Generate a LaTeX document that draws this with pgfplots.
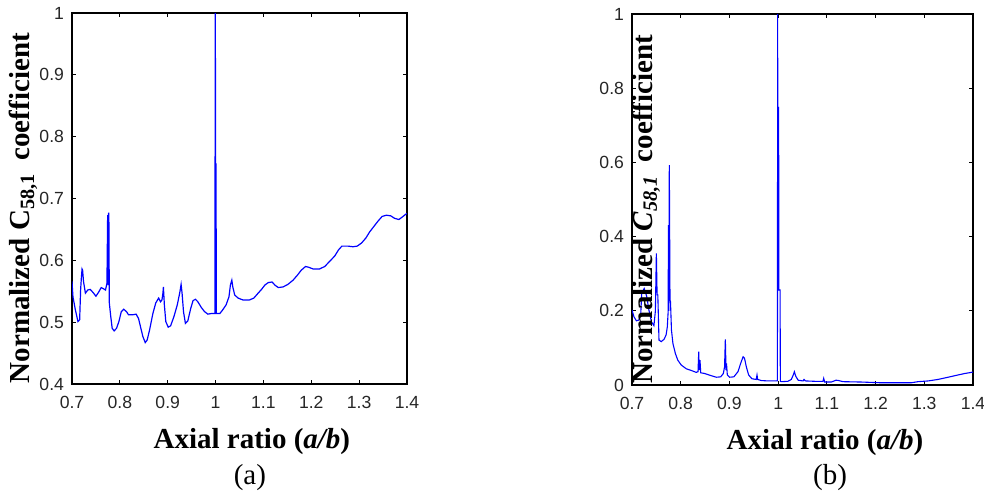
\documentclass[border=0pt]{standalone}
\usepackage{fontspec}
\setmainfont{Liberation Serif}
\newfontfamily\tickfont{Liberation Sans}
\usepackage{pgfplots}
\pgfplotsset{compat=1.18}

\pgfplotsset{
  matfig/.style={
    scale only axis,
    anchor=south west,
    clip mode=individual,
    xmin=0.7, xmax=1.4,
    xtick={0.7,0.8,...,1.4},
    tick align=inside,
    major tick length=2.2pt,
    axis line style={line width=0.6pt},
    tick style={line width=0.5pt, black},
    /pgf/number format/assume math mode=true,
    ticklabel style={font=\fontsize{8.8}{10}\selectfont\tickfont, text=black!85},
    xticklabel style={yshift=-2.5pt},
    yticklabel style={xshift=-0.5pt},
    label style={font=\fontsize{14.5}{17}\selectfont\bfseries},
  },
}

\begin{document}
\begin{tikzpicture}
\path[use as bounding box] (0,0) rectangle (492pt,247.5pt);

% (a)
\begin{axis}[matfig,
    at={(36pt,55.5pt)},
    width=167.5pt, height=185.5pt,
    ymin=0.4, ymax=1,
    ytick={0.4,0.5,...,1.0},
    xlabel={Axial ratio (\textit{a/b})},
    xlabel style={at={(axis description cs:0.537,-0.154)}, anchor=center},
    ylabel={Normalized C\textsubscript{58,1}\hspace{0.45em}coefficient},
    ylabel style={at={(axis description cs:-0.145,0.474)}, anchor=center, rotate=0},
]
\addplot[blue, line width=0.6pt] coordinates {
(0.700,0.566) (0.702,0.541) (0.707,0.520) (0.7125,0.501) (0.716,0.504)
(0.718,0.552) (0.7195,0.571) (0.721,0.586) (0.7222,0.584) (0.724,0.566)
(0.728,0.547) (0.733,0.552) (0.738,0.553) (0.744,0.548) (0.750,0.542)
(0.756,0.549) (0.761,0.556) (0.766,0.554) (0.770,0.552) (0.773,0.563)
(0.7745,0.673) (0.7755,0.560) (0.776,0.676) (0.7765,0.560) (0.777,0.677)
(0.778,0.531) (0.781,0.509) (0.784,0.490) (0.788,0.486) (0.793,0.490)
(0.798,0.501) (0.803,0.517) (0.808,0.521) (0.814,0.517) (0.818,0.512)
(0.827,0.512) (0.834,0.513) (0.839,0.506) (0.843,0.493) (0.848,0.477)
(0.853,0.467) (0.857,0.471) (0.862,0.487) (0.869,0.514) (0.875,0.531)
(0.881,0.539) (0.885,0.533) (0.888,0.536) (0.890,0.547) (0.891,0.557)
(0.893,0.528) (0.896,0.501) (0.901,0.492) (0.906,0.494) (0.913,0.509)
(0.920,0.528) (0.925,0.547) (0.928,0.561) (0.930,0.547) (0.933,0.517)
(0.937,0.498) (0.942,0.502) (0.948,0.522) (0.953,0.535) (0.958,0.537)
(0.963,0.533) (0.970,0.524) (0.977,0.517) (0.984,0.513) (0.991,0.514)
(0.9985,0.514) (0.999,0.757) (0.9995,1.0) (1.0,0.757) (1.0005,0.514)
(1.001,0.757) (1.0015,0.514)
(1.009,0.514) (1.015,0.520) (1.022,0.528) (1.028,0.541) (1.031,0.560)
(1.034,0.568) (1.036,0.557) (1.040,0.544) (1.047,0.539) (1.057,0.536)
(1.071,0.536) (1.080,0.539) (1.089,0.547) (1.096,0.553) (1.103,0.560)
(1.110,0.564) (1.118,0.565) (1.124,0.560) (1.131,0.556) (1.141,0.557)
(1.151,0.561) (1.162,0.568) (1.171,0.576) (1.179,0.584) (1.188,0.590)
(1.194,0.589) (1.204,0.586) (1.217,0.586) (1.228,0.590) (1.238,0.598)
(1.249,0.607) (1.257,0.617) (1.264,0.623) (1.277,0.623) (1.287,0.622)
(1.296,0.623) (1.305,0.628) (1.314,0.636) (1.322,0.646) (1.331,0.655)
(1.339,0.663) (1.348,0.671) (1.357,0.673) (1.366,0.672) (1.374,0.668)
(1.383,0.666) (1.390,0.670) (1.3965,0.674) (1.400,0.676)
};
\node[font=\fontsize{14.5}{17}\selectfont] at (axis description cs:0.531,-0.253) {(a)};
\end{axis}

% (b)
\begin{axis}[matfig,
    at={(316pt,55pt)},
    width=170.5pt, height=185.5pt,
    ymin=0, ymax=1,
    ytick={0,0.2,...,1.0},
    xlabel={Axial ratio (\textit{a/b})},
    xlabel style={at={(axis description cs:0.566,-0.156)}, anchor=center},
    ylabel={Normalized \textit{C}\textsubscript{\textit{58,1}}\hspace{0.45em}coefficient},
    ylabel style={at={(axis description cs:0.041,0.474)}, anchor=center, rotate=0},
]
\addplot[blue, line width=0.55pt] coordinates {
(0.700,0.202) (0.704,0.184) (0.709,0.173) (0.714,0.175) (0.718,0.193)
(0.720,0.248) (0.725,0.260) (0.730,0.240) (0.735,0.200) (0.740,0.170)
(0.745,0.160) (0.748,0.200) (0.750,0.355) (0.7515,0.243) (0.753,0.243)
(0.7554,0.121) (0.760,0.117) (0.7657,0.123) (0.770,0.135) (0.7725,0.157)
(0.774,0.193) (0.775,0.431) (0.7755,0.200) (0.7766,0.593) (0.778,0.229)
(0.779,0.225) (0.781,0.148) (0.784,0.112) (0.789,0.085) (0.794,0.067)
(0.801,0.054) (0.811,0.044) (0.822,0.039) (0.832,0.034) (0.8355,0.036)
(0.837,0.090) (0.838,0.040) (0.8396,0.067) (0.841,0.033) (0.849,0.031)
(0.863,0.025) (0.873,0.021) (0.882,0.022) (0.8875,0.031) (0.890,0.049)
(0.8916,0.123) (0.893,0.040) (0.894,0.058) (0.8957,0.027) (0.9005,0.021)
(0.909,0.022) (0.9176,0.036) (0.923,0.058) (0.928,0.076) (0.931,0.072)
(0.9347,0.049) (0.9395,0.027) (0.946,0.017) (0.955,0.015) (0.9566,0.027)
(0.958,0.015) (0.9655,0.012) (0.979,0.011) (0.9963,0.011)
(0.9985,0.011) (0.999,1.0) (0.9995,0.256) (1.0,0.750) (1.0005,0.256)
(1.001,0.750) (1.0015,0.256) (1.004,0.256) (1.0045,0.010)
(1.0066,0.009) (1.020,0.010) (1.027,0.015) (1.031,0.027) (1.0333,0.036)
(1.036,0.024) (1.041,0.013) (1.051,0.011) (1.053,0.015) (1.056,0.011)
(1.075,0.010) (1.092,0.010) (1.0935,0.018) (1.0955,0.008) (1.109,0.008)
(1.119,0.013) (1.124,0.012) (1.133,0.009) (1.171,0.008) (1.212,0.006)
(1.273,0.006) (1.287,0.009) (1.308,0.011) (1.328,0.015) (1.349,0.021)
(1.369,0.027) (1.383,0.031) (1.3966,0.034) (1.400,0.035)
};
\node[font=\fontsize{14.5}{17}\selectfont] at (axis description cs:0.581,-0.250) {(b)};
\end{axis}
\end{tikzpicture}
\end{document}
